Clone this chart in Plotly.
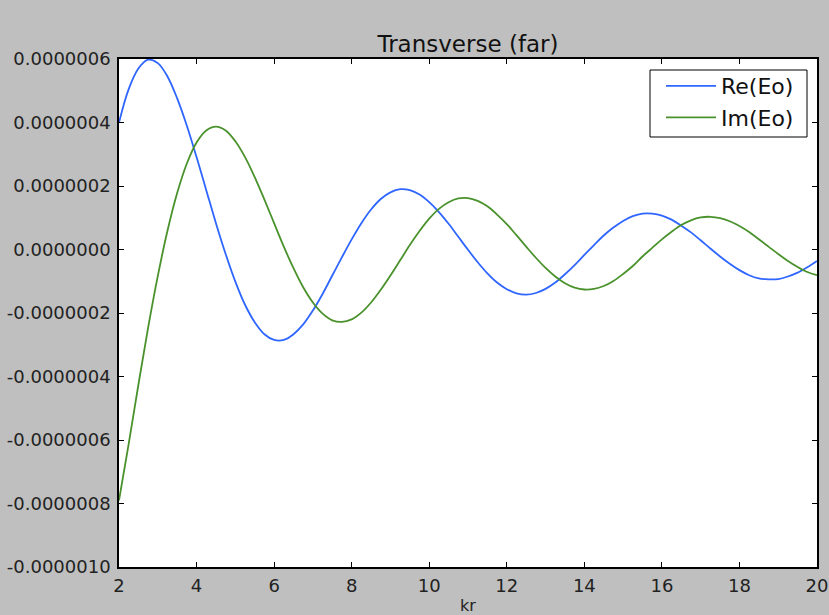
import plotly.graph_objects as go

# kr values (sample positions read along the x axis)
kr = [2.0, 2.25, 2.5, 2.75, 3.0, 3.25, 3.5, 3.75, 4.0, 4.25, 4.5, 4.75,
      5.0, 5.25, 5.5, 5.75, 6.0, 6.25, 6.5, 6.75, 7.0, 7.25, 7.5, 7.75,
      8.0, 8.25, 8.5, 8.75, 9.0, 9.25, 9.5, 9.75, 10.0, 10.25, 10.5, 10.75,
      11.0, 11.25, 11.5, 11.75, 12.0, 12.25, 12.5, 12.75, 13.0, 13.25, 13.5, 13.75,
      14.0, 14.25, 14.5, 14.75, 15.0, 15.25, 15.5, 15.75, 16.0, 16.25, 16.5, 16.75,
      17.0, 17.25, 17.5, 17.75, 18.0, 18.25, 18.5, 18.75, 19.0, 19.25, 19.5, 19.75,
      20.0]

# values in units of 1e-7
re_eo = [4.00, 5.05, 5.70, 5.98, 5.87, 5.45, 4.76, 3.90, 2.91, 1.87, 0.83, -0.14,
         -1.01, -1.74, -2.29, -2.67, -2.85, -2.85, -2.67, -2.36, -1.92, -1.40, -0.82, -0.24,
         0.32, 0.83, 1.26, 1.59, 1.80, 1.90, 1.87, 1.73, 1.49, 1.18, 0.81, 0.40,
         -0.01, -0.40, -0.75, -1.04, -1.25, -1.38, -1.42, -1.37, -1.24, -1.04, -0.78, -0.49,
         -0.17, 0.14, 0.44, 0.69, 0.90, 1.05, 1.13, 1.13, 1.07, 0.94, 0.75, 0.54,
         0.29, 0.03, -0.22, -0.45, -0.65, -0.81, -0.91, -0.94, -0.93, -0.85, -0.73, -0.56,
         -0.36]
im_eo = [-7.90, -6.12, -4.26, -2.47, -0.84, 0.59, 1.78, 2.71, 3.37, 3.75, 3.87, 3.75,
         3.41, 2.91, 2.28, 1.57, 0.83, 0.09, -0.59, -1.19, -1.67, -2.02, -2.23, -2.28,
         -2.20, -1.99, -1.67, -1.27, -0.82, -0.34, 0.14, 0.58, 0.97, 1.28, 1.49, 1.61,
         1.62, 1.53, 1.36, 1.10, 0.80, 0.45, 0.09, -0.26, -0.58, -0.85, -1.06, -1.20,
         -1.26, -1.24, -1.15, -0.99, -0.77, -0.52, -0.22, 0.05, 0.32, 0.56, 0.77, 0.92,
         1.01, 1.03, 0.99, 0.89, 0.74, 0.55, 0.32, 0.09, -0.14, -0.36, -0.55, -0.71,
         -0.81]

scale = 1e-7
y_re = [v * scale for v in re_eo]
y_im = [v * scale for v in im_eo]

y_tickvals = [6e-7, 4e-7, 2e-7, 0, -2e-7, -4e-7, -6e-7, -8e-7, -1e-6]
y_ticktext = ["0.0000006", "0.0000004", "0.0000002", "0.0000000", "-0.0000002",
              "-0.0000004", "-0.0000006", "-0.0000008", "-0.0000010"]
x_tickvals = [2, 4, 6, 8, 10, 12, 14, 16, 18, 20]

font_family = "DejaVu Sans"

W, H = 829, 615
L, R, T, B = 119, 12, 59, 48
PW, PH = W - L - R, H - T - B


def px_x(p):
    return (p - L) / PW


def px_y(p):
    return (H - B - p) / PH


fig = go.Figure()
fig.add_trace(go.Scatter(x=kr, y=y_re, mode="lines", name="Re(Eo)",
                         line=dict(color="#2f66ff", width=1.8, shape="spline", smoothing=1.0)))
fig.add_trace(go.Scatter(x=kr, y=y_im, mode="lines", name="Im(Eo)",
                         line=dict(color="#4a922c", width=1.8, shape="spline", smoothing=1.0)))

axis_common = dict(showline=True, linecolor="black", linewidth=1.5, mirror="ticks",
                   ticks="inside", ticklen=5, tickcolor="black", tickwidth=1,
                   showgrid=False, zeroline=False, automargin=False,
                   tickfont=dict(family=font_family, size=18, color="#222222"))

# legend frame
fig.add_shape(type="rect", xref="paper", yref="paper",
              x0=px_x(650), x1=px_x(807), y0=px_y(137), y1=px_y(70),
              fillcolor="white", line=dict(color="black", width=1), layer="above")

fig.update_layout(
    width=W, height=H,
    paper_bgcolor="#bfbfbf", plot_bgcolor="white",
    margin=dict(l=L, r=R, t=T, b=B),
    font=dict(family=font_family, color="#222222"),
    title=dict(text="Transverse (far)", x=0.5, xref="paper", xanchor="center",
               y=1 - 44 / H, yref="container", yanchor="middle",
               font=dict(family=font_family, size=23, color="#111111")),
    xaxis=dict(range=[2, 20], tickvals=x_tickvals,
               title=dict(text="kr", standoff=4, font=dict(family=font_family, size=16)),
               ticklabelstandoff=2,
               **axis_common),
    yaxis=dict(range=[-1e-6, 6e-7], tickvals=y_tickvals, ticktext=y_ticktext,
               ticklabelstandoff=3,
               **axis_common),
    legend=dict(x=px_x(661), y=px_y(65), xanchor="left", yanchor="top",
                bgcolor="rgba(0,0,0,0)", borderwidth=0,
                itemwidth=50,
                font=dict(family=font_family, size=22, color="#111111")),
    showlegend=True,
)

fig.write_html("out.html", config={"displayModeBar": False},
               post_script="document.body.style.margin='0';document.body.style.overflow='hidden';")
